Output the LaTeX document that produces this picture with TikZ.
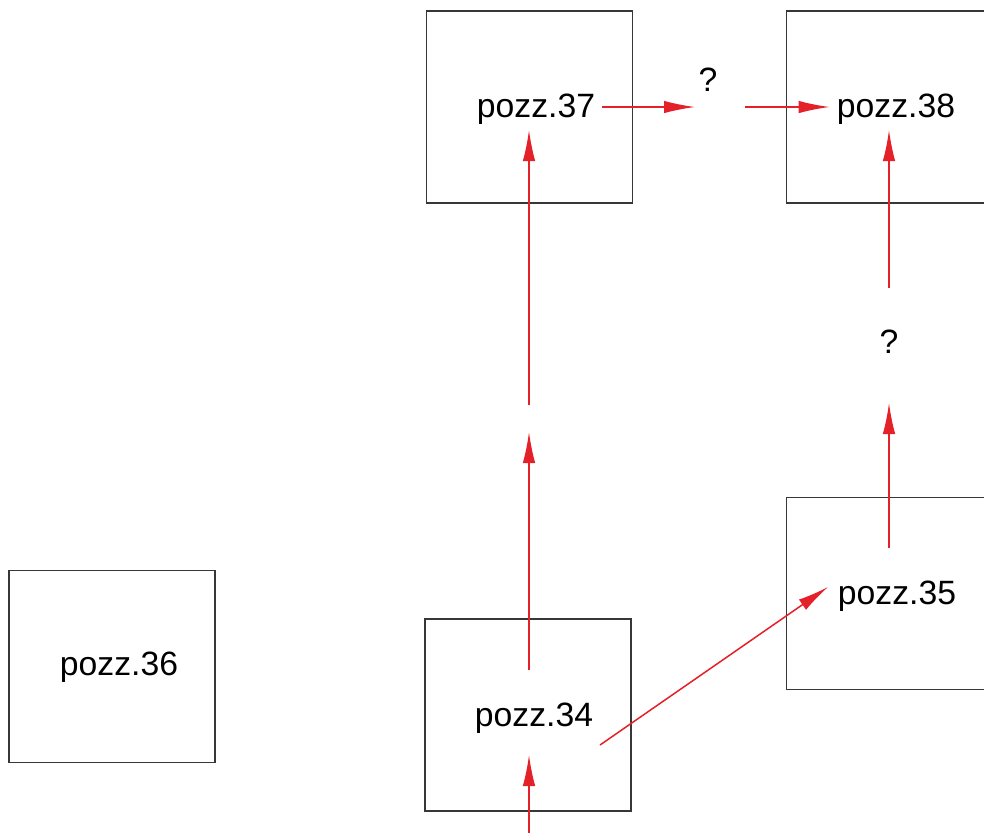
\documentclass[tikz,border=0pt]{standalone}
\usepackage{fontspec}
\setsansfont{Liberation Sans}
\usepackage{tikz}
\usetikzlibrary{arrows.meta}
\definecolor{rosso}{RGB}{228,32,40}
\definecolor{bordo}{RGB}{55,55,55}
\begin{document}
\begin{tikzpicture}[x=0.02cm, y=-0.02cm, >={Latex[length=0.62cm,width=0.25cm]}]
        % Stili
        \tikzstyle{box} = [draw=bordo, line width=0.035cm, rectangle, minimum width=4.12cm, minimum height=3.84cm]
        \tikzstyle{label} = [inner sep=0.14cm, font=\sffamily\fontsize{19.2}{21}\selectfont]
        \tikzstyle{arr} = [->, draw=rosso, fill=rosso, line width=0.03cm]

        \useasboundingbox (0,0) rectangle (984,833);

        % Pozzetti
        \node [box] (b37) at (529.5,107) {};
        \node [box] (b38) at (889.5,107) {};
        \node [box] (b35) at (889.5,593.5) {};
        \node [box] (b34) at (528,715) {};
        \node [box] (b36) at (112,666.5) {};

        \node [label] (t37) at (536,109) {pozz.37};
        \node [label] (t38) at (896,109) {pozz.38};
        \node [label] (t35) at (897,596) {pozz.35};
        \node [label] (t34) at (534,718) {pozz.34};
        \node [label] (t36) at (119,667) {pozz.36};

        % Incognite
        \node [label] (q1) at (708,80) {?};
        \node [label] (q2) at (889,342) {?};

        % Punti liberi
        \coordinate (in34) at (529,833);
        \coordinate (e34) at (529,755);
        \coordinate (u34) at (529,670);
        \coordinate (m1) at (529,432);
        \coordinate (m2) at (529,405);
        \coordinate (e37) at (529,130);
        \coordinate (q1w) at (695,107);
        \coordinate (q1e) at (745,107);
        \coordinate (q2n) at (889,288);
        \coordinate (e38) at (889,130);
        \coordinate (u35) at (889,548);
        \coordinate (q2s) at (889,403);
        \coordinate (r34) at (600,745);
        \coordinate (e35) at (828,587);

        % Collegamenti
        \draw [arr] (in34) -- (e34);
        \draw [arr] (u34) -- (m1);
        \draw [arr] (m2) -- (e37);
        \draw [arr] (t37.east |- q1w) -- (q1w);
        \draw [arr] (q1e) -- (t38.west |- q1e);
        \draw [arr] (q2n) -- (e38);
        \draw [arr] (u35) -- (q2s);
        \draw [arr] (r34) -- (e35);

    \end{tikzpicture}
\end{document}
